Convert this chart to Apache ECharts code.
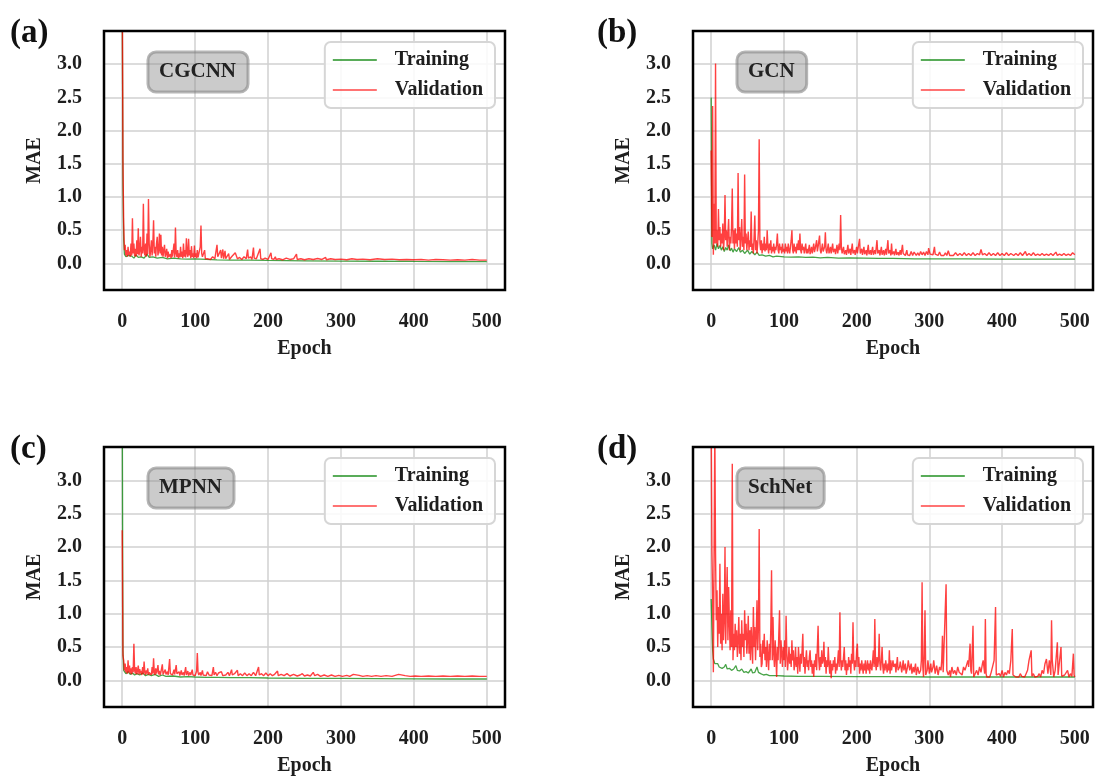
<!DOCTYPE html>
<html>
<head>
<meta charset="utf-8">
<script src="https://cdn.jsdelivr.net/npm/echarts@6/dist/echarts.min.js"></script>
<style>
  html, body { margin: 0; padding: 0; background: #fff; }
  #chart { width: 1097px; height: 780px; }
</style>
</head>
<body>
<div id="chart"></div>
<script>
// epoch ticks / MAE ticks
var epochTicks = [0, 100, 200, 300, 400, 500];
var maeTicks = [0.0, 0.5, 1.0, 1.5, 2.0, 2.5, 3.0];
var panelLabels = ['(a)', '(b)', '(c)', '(d)'];
var modelNames = ['CGCNN', 'GCN', 'MPNN', 'SchNet'];

// [epoch, MAE]
var cgcnnTraining = [[0,4.2],[1,1.2],[2,0.35],[3,0.14],[5,0.1],[8,0.12],[10,0.09],[13,0.11],[16,0.08],[19,0.13],[22,0.09],[26,0.1],[30,0.08],[34,0.14],[37,0.09],[42,0.1],[48,0.08],[55,0.09],[62,0.07],[70,0.08],[80,0.07],[90,0.065],[100,0.07],[115,0.06],[130,0.055],[150,0.05],[175,0.05],[200,0.045],[250,0.04],[300,0.035],[350,0.033],[400,0.03],[450,0.028],[500,0.027]];
var cgcnnValidation = [[0,4.5],[1,1.53],[2,0.6],[3,0.2],[4,0.28],[5,0.12],[6,0.2],[7,0.1],[8,0.25],[9,0.13],[10,0.18],[11,0.1],[12,0.3],[13,0.12],[14,0.68],[15,0.15],[16,0.3],[17,0.11],[18,0.22],[19,0.1],[20,0.35],[21,0.14],[22,0.53],[23,0.12],[24,0.2],[25,0.4],[26,0.1],[27,0.25],[28,0.15],[29,0.9],[30,0.2],[31,0.12],[32,0.3],[33,0.1],[34,0.45],[35,0.14],[36,0.97],[37,0.3],[38,0.1],[39,0.2],[40,0.35],[41,0.12],[42,0.3],[43,0.65],[44,0.15],[45,0.25],[46,0.1],[47,0.3],[48,0.4],[49,0.12],[50,0.2],[51,0.45],[52,0.15],[53,0.43],[54,0.12],[55,0.25],[56,0.1],[57,0.2],[58,0.28],[59,0.1],[60,0.15],[61,0.22],[62,0.08],[63,0.18],[64,0.1],[66,0.14],[67,0.08],[68,0.2],[69,0.1],[70,0.12],[71,0.3],[72,0.09],[73,0.54],[74,0.15],[75,0.1],[76,0.2],[77,0.08],[78,0.15],[79,0.09],[80,0.25],[81,0.1],[82,0.18],[83,0.08],[84,0.3],[85,0.1],[86,0.2],[87,0.09],[88,0.38],[89,0.15],[90,0.1],[91,0.37],[92,0.12],[93,0.2],[94,0.08],[95,0.26],[96,0.1],[97,0.15],[98,0.08],[99,0.27],[100,0.1],[101,0.15],[102,0.08],[103,0.2],[104,0.09],[105,0.12],[106,0.08],[107,0.25],[108,0.57],[109,0.15],[110,0.1],[111,0.08],[112,0.12],[113,0.2],[114,0.07],[115,0.1],[117,0.07],[119,0.09],[121,0.06],[124,0.1],[127,0.07],[130,0.28],[131,0.1],[133,0.07],[135,0.2],[136,0.08],[138,0.21],[139,0.07],[141,0.19],[142,0.07],[144,0.1],[146,0.15],[147,0.06],[150,0.1],[152,0.07],[155,0.16],[157,0.17],[158,0.07],[161,0.09],[164,0.06],[167,0.1],[170,0.07],[172,0.21],[173,0.08],[176,0.1],[178,0.06],[180,0.24],[181,0.08],[184,0.07],[186,0.1],[189,0.22],[190,0.07],[193,0.06],[196,0.08],[200,0.06],[204,0.16],[205,0.07],[208,0.06],[210,0.1],[211,0.06],[215,0.07],[220,0.055],[225,0.08],[230,0.06],[235,0.07],[239,0.14],[240,0.06],[245,0.07],[250,0.055],[256,0.07],[262,0.06],[268,0.075],[274,0.06],[279,0.09],[280,0.055],[286,0.07],[292,0.06],[300,0.065],[308,0.055],[315,0.07],[322,0.06],[330,0.065],[340,0.055],[350,0.07],[360,0.06],[370,0.065],[380,0.055],[390,0.06],[400,0.055],[410,0.06],[420,0.05],[430,0.06],[440,0.055],[450,0.05],[460,0.055],[470,0.05],[480,0.06],[490,0.05],[500,0.05]];

var gcnTraining = [[0,2.5],[1,0.3],[2,0.22],[4,0.28],[6,0.2],[8,0.3],[10,0.22],[12,0.27],[14,0.2],[16,0.25],[18,0.18],[20,0.24],[22,0.2],[24,0.28],[26,0.19],[28,0.23],[30,0.17],[32,0.22],[35,0.18],[38,0.24],[40,0.17],[43,0.2],[46,0.15],[50,0.2],[53,0.14],[56,0.18],[60,0.13],[63,0.17],[66,0.12],[70,0.13],[75,0.11],[80,0.12],[85,0.1],[90,0.11],[100,0.1],[110,0.095],[120,0.1],[130,0.09],[140,0.095],[150,0.085],[160,0.09],[175,0.08],[190,0.085],[210,0.08],[230,0.075],[250,0.075],[280,0.07],[310,0.07],[350,0.068],[400,0.066],[450,0.065],[500,0.064]];
var gcnValidation = [[0,1.7],[1,0.4],[2,2.37],[3,0.13],[4,0.9],[5,0.3],[6,3.01],[7,0.3],[8,0.5],[9,0.25],[10,0.82],[11,0.35],[12,0.55],[13,0.25],[14,0.45],[15,0.3],[16,0.6],[17,0.2],[18,0.4],[19,1.03],[20,0.35],[21,0.5],[22,0.25],[23,0.45],[24,0.67],[25,0.2],[26,0.4],[27,0.3],[28,0.55],[29,1.13],[30,0.3],[31,0.5],[32,0.22],[33,0.53],[34,0.3],[35,0.45],[36,0.25],[37,1.36],[38,0.35],[39,0.55],[40,0.2],[41,0.4],[42,0.67],[43,0.25],[44,0.4],[45,0.2],[46,1.34],[47,0.3],[48,0.45],[49,0.2],[50,0.35],[51,0.48],[52,0.2],[53,0.35],[54,0.25],[55,0.78],[56,0.2],[57,0.3],[58,0.15],[59,0.4],[60,0.72],[61,0.2],[62,0.35],[63,0.15],[64,0.3],[65,0.5],[66,1.87],[67,0.3],[68,0.2],[69,0.35],[70,0.15],[71,0.3],[72,0.2],[73,0.4],[74,0.18],[75,0.3],[76,0.2],[77,0.5],[78,0.25],[79,0.15],[80,0.3],[81,0.2],[82,0.35],[83,0.15],[84,0.25],[85,0.18],[86,0.3],[87,0.15],[88,0.25],[89,0.2],[90,0.3],[91,0.45],[92,0.2],[93,0.15],[94,0.3],[95,0.2],[96,0.25],[97,0.15],[98,0.3],[99,0.18],[100,0.22],[101,0.15],[102,0.3],[103,0.18],[104,0.25],[105,0.15],[106,0.3],[107,0.2],[108,0.15],[109,0.25],[110,0.35],[111,0.5],[112,0.2],[113,0.15],[114,0.3],[115,0.18],[116,0.25],[117,0.15],[118,0.3],[119,0.2],[120,0.35],[121,0.2],[122,0.45],[123,0.2],[124,0.15],[125,0.3],[126,0.2],[127,0.25],[128,0.15],[130,0.3],[131,0.15],[132,0.22],[133,0.15],[135,0.28],[136,0.14],[138,0.25],[139,0.15],[141,0.3],[142,0.17],[143,0.22],[145,0.35],[146,0.18],[147,0.25],[149,0.42],[150,0.2],[151,0.15],[153,0.3],[154,0.18],[156,0.25],[157,0.47],[158,0.2],[159,0.15],[161,0.3],[162,0.15],[164,0.25],[165,0.15],[167,0.3],[168,0.17],[170,0.22],[171,0.14],[173,0.28],[174,0.15],[176,0.3],[177,0.2],[178,0.73],[179,0.25],[180,0.15],[182,0.25],[183,0.14],[185,0.2],[186,0.13],[188,0.28],[189,0.15],[191,0.22],[192,0.13],[194,0.3],[195,0.15],[197,0.2],[198,0.13],[200,0.25],[201,0.15],[203,0.3],[204,0.37],[205,0.15],[207,0.22],[208,0.13],[210,0.25],[211,0.14],[213,0.2],[214,0.12],[216,0.28],[217,0.14],[219,0.2],[220,0.13],[222,0.25],[223,0.13],[225,0.2],[226,0.14],[228,0.35],[229,0.15],[231,0.2],[232,0.12],[234,0.25],[235,0.13],[237,0.2],[238,0.12],[240,0.22],[241,0.13],[243,0.35],[244,0.15],[246,0.2],[247,0.12],[248,0.3],[249,0.14],[251,0.18],[252,0.12],[254,0.22],[255,0.13],[257,0.17],[258,0.12],[260,0.2],[261,0.13],[263,0.28],[264,0.15],[266,0.18],[267,0.12],[269,0.2],[270,0.13],[272,0.16],[273,0.12],[275,0.18],[277,0.12],[279,0.17],[281,0.2],[282,0.12],[284,0.16],[286,0.12],[288,0.18],[290,0.13],[292,0.17],[294,0.12],[296,0.18],[298,0.13],[299,0.23],[301,0.14],[303,0.17],[305,0.13],[307,0.25],[308,0.14],[310,0.16],[312,0.12],[314,0.17],[316,0.12],[318,0.15],[320,0.12],[322,0.16],[324,0.12],[326,0.19],[328,0.12],[330,0.15],[333,0.12],[336,0.16],[339,0.12],[342,0.15],[345,0.12],[348,0.16],[351,0.12],[354,0.15],[357,0.12],[360,0.16],[363,0.12],[366,0.15],[369,0.13],[371,0.21],[373,0.13],[376,0.15],[379,0.12],[382,0.16],[385,0.12],[388,0.15],[391,0.12],[394,0.16],[397,0.12],[400,0.15],[403,0.12],[406,0.16],[409,0.12],[412,0.15],[414,0.18],[416,0.12],[419,0.15],[422,0.12],[425,0.16],[428,0.12],[430,0.15],[432,0.18],[434,0.12],[437,0.15],[440,0.12],[443,0.16],[446,0.12],[449,0.14],[452,0.12],[455,0.15],[458,0.12],[461,0.14],[464,0.12],[467,0.15],[470,0.12],[472,0.14],[474,0.17],[476,0.12],[479,0.14],[482,0.12],[485,0.15],[488,0.12],[491,0.14],[494,0.12],[497,0.16],[500,0.13]];

var mpnnTraining = [[0,4.5],[1,0.45],[2,0.15],[3,0.12],[5,0.1],[8,0.13],[11,0.09],[14,0.11],[17,0.08],[20,0.1],[24,0.08],[28,0.11],[32,0.07],[36,0.09],[40,0.07],[45,0.09],[50,0.06],[55,0.08],[60,0.06],[70,0.065],[80,0.05],[90,0.055],[100,0.05],[115,0.045],[130,0.045],[150,0.04],[175,0.04],[200,0.035],[250,0.03],[300,0.028],[350,0.025],[400,0.022],[450,0.02],[500,0.02]];
var mpnnValidation = [[0,2.25],[1,0.37],[2,0.3],[3,0.15],[4,0.25],[5,0.12],[6,0.2],[7,0.1],[8,0.3],[9,0.12],[10,0.22],[11,0.1],[12,0.18],[13,0.09],[14,0.2],[15,0.12],[16,0.55],[17,0.15],[18,0.1],[19,0.2],[20,0.09],[21,0.15],[22,0.22],[23,0.09],[24,0.17],[25,0.1],[26,0.14],[27,0.08],[28,0.2],[29,0.1],[30,0.28],[31,0.12],[32,0.08],[33,0.15],[34,0.1],[35,0.18],[36,0.08],[37,0.12],[38,0.09],[39,0.15],[40,0.08],[41,0.2],[42,0.1],[43,0.33],[44,0.12],[45,0.08],[46,0.18],[47,0.1],[48,0.15],[49,0.23],[50,0.09],[51,0.14],[52,0.08],[53,0.12],[54,0.1],[55,0.24],[56,0.09],[57,0.12],[58,0.08],[59,0.16],[60,0.09],[62,0.13],[63,0.08],[65,0.32],[66,0.1],[67,0.08],[68,0.13],[69,0.08],[71,0.16],[72,0.09],[74,0.23],[75,0.1],[76,0.08],[78,0.13],[79,0.07],[81,0.15],[82,0.08],[84,0.12],[85,0.07],[87,0.2],[88,0.08],[90,0.14],[91,0.07],[93,0.12],[94,0.08],[96,0.16],[97,0.08],[99,0.11],[100,0.07],[102,0.14],[103,0.41],[104,0.12],[105,0.08],[107,0.12],[108,0.07],[110,0.15],[111,0.08],[113,0.11],[115,0.07],[117,0.13],[119,0.08],[121,0.1],[123,0.07],[125,0.2],[126,0.08],[128,0.12],[130,0.07],[132,0.11],[134,0.08],[136,0.13],[138,0.07],[140,0.1],[142,0.08],[145,0.12],[147,0.07],[150,0.16],[151,0.08],[154,0.1],[156,0.07],[158,0.15],[159,0.07],[162,0.1],[165,0.07],[168,0.11],[171,0.07],[174,0.1],[177,0.07],[180,0.12],[183,0.07],[187,0.2],[188,0.08],[191,0.1],[194,0.07],[197,0.11],[200,0.07],[203,0.1],[206,0.07],[209,0.09],[213,0.14],[214,0.07],[218,0.09],[222,0.07],[226,0.1],[230,0.065],[235,0.09],[240,0.065],[244,0.08],[247,0.1],[250,0.065],[254,0.08],[258,0.065],[262,0.12],[264,0.07],[268,0.09],[272,0.06],[277,0.08],[282,0.06],[287,0.08],[292,0.06],[297,0.075],[302,0.06],[308,0.075],[312,0.06],[317,0.09],[319,0.06],[325,0.075],[330,0.06],[336,0.07],[342,0.06],[348,0.07],[355,0.06],[362,0.07],[370,0.06],[379,0.09],[381,0.06],[388,0.07],[395,0.06],[402,0.065],[410,0.06],[420,0.065],[430,0.06],[440,0.065],[450,0.06],[460,0.065],[470,0.06],[480,0.065],[490,0.06],[500,0.06]];

var schnetTraining = [[0,1.22],[1,0.8],[2,0.45],[3,0.32],[5,0.25],[7,0.22],[9,0.25],[11,0.2],[13,0.22],[15,0.18],[18,0.2],[20,0.24],[22,0.17],[25,0.18],[28,0.15],[31,0.17],[34,0.22],[36,0.15],[39,0.14],[42,0.17],[45,0.12],[48,0.13],[51,0.11],[55,0.17],[57,0.11],[60,0.12],[63,0.2],[65,0.12],[68,0.1],[72,0.08],[76,0.09],[80,0.07],[90,0.07],[100,0.065],[120,0.06],[150,0.06],[200,0.055],[250,0.055],[300,0.05],[350,0.05],[400,0.05],[450,0.05],[500,0.05]];
var schnetValidation = [[0,4.0],[1,1.95],[2,1.25],[3,0.12],[4,1.9],[5,3.8],[6,1.9],[7,0.9],[8,1.35],[9,0.5],[10,1.1],[11,0.7],[12,1.75],[13,0.55],[14,1.0],[15,0.45],[16,1.3],[17,0.6],[18,0.9],[19,2.0],[20,0.55],[21,1.2],[22,1.7],[23,0.6],[24,1.4],[25,0.9],[26,0.45],[27,1.05],[28,0.5],[29,3.25],[30,0.3],[31,0.7],[32,0.45],[33,0.85],[34,0.5],[35,0.75],[36,0.35],[37,0.6],[38,0.95],[39,0.4],[40,0.7],[41,0.3],[42,0.9],[43,0.5],[44,0.7],[45,0.35],[46,1.05],[47,0.6],[48,0.85],[49,0.4],[50,0.6],[51,0.97],[52,0.4],[53,0.75],[54,0.3],[55,0.8],[56,0.55],[57,0.25],[58,1.1],[59,0.5],[60,0.8],[61,0.3],[62,0.7],[63,1.2],[64,0.45],[65,0.8],[66,2.27],[67,0.35],[68,0.55],[69,0.2],[70,0.25],[71,0.6],[72,0.4],[73,0.7],[74,0.3],[75,0.5],[76,0.2],[77,0.6],[78,0.35],[79,0.15],[80,0.55],[81,0.3],[82,0.8],[83,1.65],[84,0.3],[85,0.95],[86,0.4],[87,0.2],[88,0.6],[89,0.35],[90,0.05],[91,0.5],[92,0.3],[93,0.7],[94,1.05],[95,0.25],[96,0.6],[97,0.4],[98,0.2],[99,0.5],[100,0.3],[101,0.6],[102,0.2],[103,0.97],[104,0.4],[105,0.15],[106,0.3],[107,0.5],[108,0.25],[109,0.4],[110,0.2],[111,0.6],[112,0.3],[113,0.45],[114,0.15],[115,0.25],[116,0.5],[117,0.2],[118,0.35],[119,0.1],[120,0.5],[121,0.3],[122,0.13],[123,0.4],[124,0.25],[125,0.45],[126,0.7],[127,0.2],[128,0.35],[129,0.1],[130,0.3],[131,0.45],[132,0.2],[133,0.3],[134,0.15],[135,0.35],[136,0.45],[137,0.2],[138,0.3],[139,0.1],[140,0.25],[141,0.05],[142,0.3],[143,0.2],[144,0.4],[145,0.15],[146,0.5],[147,0.82],[148,0.3],[149,0.15],[150,0.35],[151,0.2],[152,0.45],[153,0.25],[154,0.3],[155,0.58],[156,0.2],[157,0.35],[158,0.1],[159,0.3],[160,0.2],[161,0.5],[162,0.25],[163,0.1],[164,0.3],[165,0.03],[166,0.25],[167,0.15],[168,0.3],[169,0.2],[170,0.35],[171,0.1],[172,0.25],[173,0.15],[174,0.3],[175,0.45],[176,0.2],[177,1.02],[178,0.3],[179,0.15],[180,0.3],[181,0.2],[182,0.35],[183,0.5],[184,0.15],[185,0.3],[186,0.08],[187,0.25],[188,0.15],[189,0.35],[190,0.2],[191,0.3],[192,0.1],[193,0.4],[194,0.25],[195,0.87],[196,0.3],[197,0.15],[198,0.3],[199,0.2],[200,0.45],[201,0.55],[202,0.2],[203,0.35],[204,0.1],[205,0.25],[206,0.15],[207,0.3],[208,0.2],[209,0.1],[210,0.25],[211,0.15],[212,0.3],[213,0.1],[214,0.2],[215,0.3],[216,0.15],[217,0.25],[218,0.1],[219,0.3],[220,0.2],[221,0.15],[222,0.3],[223,0.45],[224,0.2],[225,0.92],[226,0.25],[227,0.15],[228,0.35],[229,0.2],[230,0.3],[231,0.7],[232,0.25],[233,0.15],[234,0.3],[235,0.5],[236,0.2],[237,0.1],[238,0.25],[239,0.15],[240,0.3],[241,0.2],[242,0.12],[243,0.25],[244,0.15],[245,0.45],[246,0.1],[247,0.3],[248,0.15],[250,0.3],[251,0.2],[253,0.25],[254,0.12],[256,0.35],[257,0.15],[259,0.2],[260,0.28],[262,0.12],[264,0.3],[265,0.15],[267,0.25],[268,0.1],[270,0.2],[271,0.3],[273,0.15],[275,0.25],[276,0.1],[278,0.2],[279,0.12],[281,0.25],[282,0.08],[284,0.2],[286,0.1],[288,0.15],[289,0.3],[290,1.47],[291,0.2],[292,0.05],[293,0.4],[294,1.05],[295,0.08],[297,0.15],[298,0.3],[300,0.1],[302,0.25],[303,0.12],[305,0.2],[306,0.3],[308,0.1],[310,0.22],[312,0.08],[314,0.2],[316,0.15],[317,0.3],[318,0.67],[319,0.12],[321,0.1],[323,1.44],[324,0.15],[326,0.08],[328,0.15],[329,0.05],[331,0.2],[333,0.1],[335,0.15],[337,0.08],[339,0.2],[341,0.12],[343,0.15],[345,0.08],[347,0.2],[349,0.15],[351,0.12],[353,0.3],[354,0.2],[356,0.55],[357,0.15],[358,0.1],[360,0.82],[361,0.05],[363,0.1],[365,0.15],[367,0.08],[369,0.2],[371,0.12],[373,0.25],[374,0.3],[376,0.1],[377,0.92],[378,0.1],[379,0.05],[381,0.08],[383,0.05],[385,0.12],[387,0.15],[389,0.3],[391,1.1],[392,0.08],[394,0.05],[396,0.1],[398,0.06],[400,0.15],[402,0.05],[404,0.12],[406,0.08],[408,0.15],[410,0.1],[412,0.3],[414,0.77],[415,0.08],[417,0.06],[419,0.05],[421,0.08],[423,0.05],[425,0.1],[427,0.06],[429,0.08],[431,0.05],[433,0.1],[435,0.15],[437,0.3],[440,0.45],[441,0.06],[443,0.1],[445,0.05],[447,0.08],[449,0.06],[451,0.1],[453,0.05],[455,0.15],[457,0.1],[459,0.25],[461,0.32],[463,0.1],[465,0.3],[467,0.08],[468,0.9],[469,0.3],[471,0.05],[473,0.15],[476,0.57],[477,0.08],[479,0.1],[481,0.5],[482,0.06],[484,0.05],[486,0.08],[488,0.05],[490,0.15],[492,0.05],[494,0.1],[496,0.06],[498,0.4],[499,0.08],[500,0.05]];

var trainingSets = [cgcnnTraining, gcnTraining, mpnnTraining, schnetTraining];
var validationSets = [cgcnnValidation, gcnValidation, mpnnValidation, schnetValidation];

var FONT = 'Liberation Serif';
var TXT = '#1e1e1e';

// pixel boxes of the four panels
var boxes = [
  { left: 104, top: 31, width: 401, height: 259 },
  { left: 693, top: 31, width: 400, height: 259 },
  { left: 104, top: 447, width: 401, height: 260 },
  { left: 693, top: 447, width: 400, height: 260 }
];

var grid = [], xAxis = [], yAxis = [], series = [], legend = [], graphic = [];

boxes.forEach(function (b, i) {
  grid.push({
    left: b.left, top: b.top, width: b.width, height: b.height,
    show: true, z: 3, borderColor: '#000', borderWidth: 2.5,
    backgroundColor: 'transparent', outerBoundsMode: 'none'
  });
  xAxis.push({
    type: 'value', gridIndex: i, min: -25, max: 525,
    minInterval: 100, maxInterval: 100,
    name: 'Epoch', nameLocation: 'middle', nameGap: 49,
    nameTextStyle: { fontFamily: FONT, fontWeight: 'bold', fontSize: 20, color: TXT },
    axisLine: { show: false }, axisTick: { show: false },
    axisLabel: {
      fontFamily: FONT, fontWeight: 'bold', fontSize: 20, color: TXT, margin: 22,
      showMinLabel: false, showMaxLabel: false,
      formatter: function (v) { return epochTicks.indexOf(v) >= 0 ? String(v) : ''; }
    },
    splitLine: { show: true, showMinLine: false, showMaxLine: false, lineStyle: { color: '#d0d0d0', width: 1.5 } }
  });
  yAxis.push({
    type: 'value', gridIndex: i, min: -0.4, max: 3.5,
    minInterval: 0.5, maxInterval: 0.5,
    name: 'MAE', nameLocation: 'middle', nameGap: 59,
    nameTextStyle: { fontFamily: FONT, fontWeight: 'bold', fontSize: 20, color: TXT },
    axisLine: { show: false }, axisTick: { show: false },
    axisLabel: {
      fontFamily: FONT, fontWeight: 'bold', fontSize: 20, color: TXT, margin: 22,
      showMinLabel: false, showMaxLabel: false,
      formatter: function (v) {
        for (var k = 0; k < maeTicks.length; k++) {
          if (Math.abs(maeTicks[k] - v) < 1e-6) return maeTicks[k].toFixed(1);
        }
        return '';
      }
    },
    splitLine: { show: true, showMinLine: false, showMaxLine: false, lineStyle: { color: '#d0d0d0', width: 1.5 } }
  });
  series.push({
    name: 'Training', type: 'line', xAxisIndex: i, yAxisIndex: i,
    data: trainingSets[i], symbol: 'none', clip: true,
    color: 'rgba(0,128,0,0.72)', lineStyle: { width: 1.3 }, z: 2
  });
  series.push({
    name: 'Validation', type: 'line', xAxisIndex: i, yAxisIndex: i,
    data: validationSets[i], symbol: 'none', clip: true,
    color: 'rgba(255,0,0,0.75)', lineStyle: { width: 1.4 }, z: 2
  });
  legend.push({
    data: [
      { name: 'Training', icon: 'rect', itemStyle: { color: 'rgba(0,128,0,0.65)' } },
      { name: 'Validation', icon: 'rect', itemStyle: { color: 'rgba(255,0,0,0.55)' } }
    ],
    orient: 'vertical',
    right: 1097 - (b.left + b.width - 10), top: b.top + 11,
    itemWidth: 44, itemHeight: 2, itemGap: 10,
    padding: [8, 12, 8, 8],
    backgroundColor: 'rgba(255,255,255,0.85)', borderColor: '#d6d6d6', borderWidth: 2, borderRadius: 6,
    textStyle: { fontFamily: FONT, fontWeight: 'bold', fontSize: 20, color: TXT, padding: [0, 0, 0, 13], lineHeight: 20 },
    selectedMode: false
  });
  // panel letter
  graphic.push({
    type: 'text', x: i % 2 === 0 ? 10 : 597, y: b.top + 2,
    style: { text: panelLabels[i], font: 'bold 33px ' + FONT, fill: '#111', align: 'left', verticalAlign: 'middle' }
  });
  // model name badge
  graphic.push({
    type: 'text', x: b.left + 44, y: b.top + 21, z: 10,
    style: {
      text: modelNames[i], font: 'bold 21px ' + FONT, fill: '#222',
      align: 'left', verticalAlign: 'top',
      backgroundColor: 'rgba(140,140,140,0.45)', borderColor: 'rgba(110,110,110,0.5)', borderWidth: 1.5,
      borderRadius: 8, padding: [9, 12, 10, 11]
    }
  });
});

var myChart = echarts.init(document.getElementById('chart'));
myChart.setOption({
  animation: false,
  backgroundColor: '#fff',
  grid: grid,
  xAxis: xAxis,
  yAxis: yAxis,
  legend: legend,
  series: series,
  graphic: graphic
});
</script>
</body>
</html>
